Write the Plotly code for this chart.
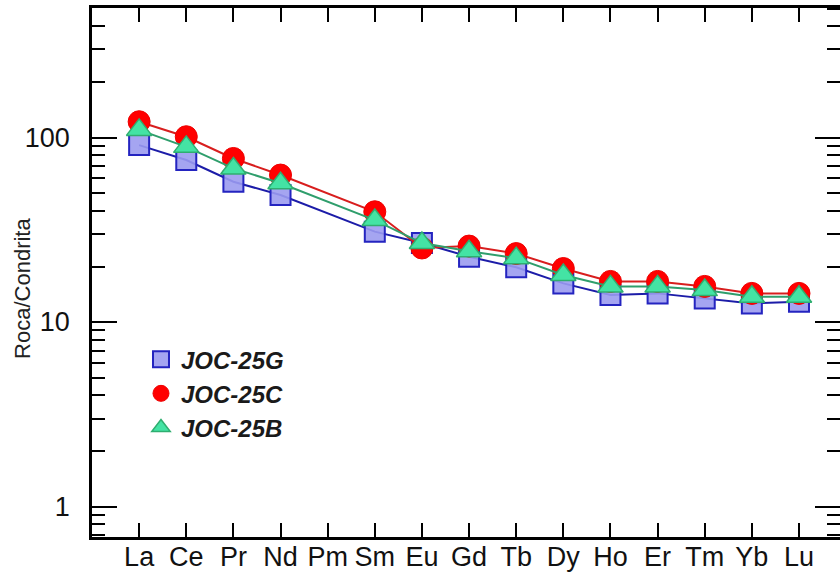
import plotly.graph_objects as go

elements = ["La", "Ce", "Pr", "Nd", "Pm", "Sm", "Eu", "Gd", "Tb", "Dy", "Ho", "Er", "Tm", "Yb", "Lu"]

joc_25g = [91, 75.5, 57.6, 48.8, None, 30.9, 26.8, 22.6, 19.8, 16.2, 14.0, 14.3, 13.4, 12.6, 12.9]
joc_25c = [121.8, 101, 77, 62.6, None, 39.6, 25.2, 25.8, 23.5, 19.5, 16.6, 16.6, 15.6, 14.3, 14.3]
joc_25b = [110, 89, 68, 56.5, None, 35.7, 26.8, 24.2, 22.2, 18.0, 15.6, 15.6, 14.9, 13.7, 13.7]

y_tickvals = [1, 10, 100]
y_ticktext = ["1", "10", "100"]

FONT = "Arial, Liberation Sans, sans-serif"

series = [
    ("JOC-25G", joc_25g, "#1c1ca8",
     dict(symbol="square", size=20, color="rgba(155,155,240,0.9)", line=dict(color="#2424c0", width=2))),
    ("JOC-25C", joc_25c, "#d81e1e",
     dict(symbol="circle", size=22, color="#ff0000", line=dict(color="#ee0000", width=1))),
    ("JOC-25B", joc_25b, "#2f9e6c",
     dict(symbol="triangle-up", size=22, color="#44e3a4", line=dict(color="#2fae70", width=1.5))),
]

fig = go.Figure()
for name, vals, lcolor, marker in series:
    fig.add_trace(go.Scatter(
        x=elements, y=vals, mode="lines", connectgaps=True, showlegend=False,
        line=dict(color=lcolor, width=2), hoverinfo="skip",
    ))
    fig.add_trace(go.Scatter(
        x=elements, y=vals, name=name, mode="markers", marker=marker,
    ))

# invisible trace to host the right-hand tick axis
fig.add_trace(go.Scatter(x=elements, y=joc_25c, yaxis="y2", mode="none",
                         showlegend=False, hoverinfo="skip"))

fig.update_layout(
    width=840, height=573,
    margin=dict(l=92, r=0, t=8, b=36),
    paper_bgcolor="white", plot_bgcolor="white",
    font=dict(family=FONT, color="#111111"),
    showlegend=True,
    legend=dict(
        x=0.0655, y=0.378, xanchor="left", yanchor="top",
        bgcolor="rgba(0,0,0,0)", borderwidth=0,
        font=dict(family=FONT, size=24, color="#1a1a1a", style="italic", weight="bold"),
        itemsizing="trace", tracegroupgap=0,
    ),
    xaxis=dict(
        type="category", categoryorder="array", categoryarray=elements,
        range=[-1, 14.87], automargin=False,
        showline=True, linecolor="black", linewidth=2.5, mirror="ticks",
        ticks="inside", ticklen=14, tickwidth=2, tickcolor="black",
        tickfont=dict(family=FONT, size=27, color="#111111"),
        ticklabelstandoff=-6,
        showgrid=False, zeroline=False,
    ),
    yaxis=dict(
        type="log", range=[-0.165, 2.702], automargin=False,
        tickvals=y_tickvals, ticktext=y_ticktext,
        showline=True, linecolor="black", linewidth=2.5, mirror=False,
        ticks="inside", ticklen=25, tickwidth=2, tickcolor="black",
        minor=dict(ticks="inside", ticklen=13, tickwidth=2, tickcolor="black",
                   dtick="D1", showgrid=False),
        tickfont=dict(family=FONT, size=27, color="#111111"),
        ticklabelstandoff=14,
        showgrid=False, zeroline=False,
    ),
    yaxis2=dict(
        type="log", range=[-0.165, 2.702], overlaying="y",
        side="left", anchor="free", position=1.0,
        automargin=False,
        tickvals=y_tickvals, showticklabels=False,
        showline=False,
        ticks="outside", ticklen=25, tickwidth=2, tickcolor="black",
        minor=dict(ticks="outside", ticklen=13, tickwidth=2, tickcolor="black",
                   dtick="D1", showgrid=False),
        showgrid=False, zeroline=False,
    ),
    annotations=[dict(
        text="Roca/Condrita", xref="paper", yref="paper",
        x=-0.0922, y=0.469, xanchor="center", yanchor="middle",
        textangle=-90, showarrow=False,
        font=dict(family=FONT, size=22, color="#222222"),
    )],
)

fig.write_html(
    "out.html",
    config={"displayModeBar": False},
    post_script="document.body.style.margin='0';document.body.style.overflow='hidden';",
)
